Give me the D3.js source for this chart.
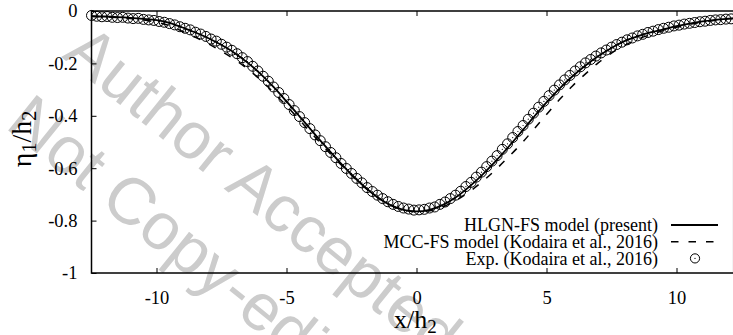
<!DOCTYPE html>
<html>
<head>
<meta charset="utf-8">
<script src="https://cdn.jsdelivr.net/npm/d3@7"></script>
<style>
  body { margin: 0; background: #fff; }
  svg { display: block; }
</style>
</head>
<body>
<div id="chart"></div>
<script>
// model curves, sampled every 0.5 x/h2
const modelX = [-12.5, -12, -11.5, -11, -10.5, -10, -9.5, -9, -8.5, -8, -7.5, -7, -6.5, -6, -5.5, -5,
  -4.5, -4, -3.5, -3, -2.5, -2, -1.5, -1, -0.5, 0, 0.5, 1, 1.5, 2, 2.5, 3, 3.5, 4, 4.5, 5,
  5.5, 6, 6.5, 7, 7.5, 8, 8.5, 9, 9.5, 10, 10.5, 11, 11.5, 12, 12.2];
const hlgnY = [-0.020, -0.021, -0.023, -0.026, -0.030, -0.035, -0.045, -0.063, -0.082, -0.104, -0.130,
  -0.160, -0.197, -0.240, -0.290, -0.345, -0.402, -0.460, -0.517, -0.572, -0.624, -0.671, -0.711,
  -0.741, -0.759, -0.765, -0.759, -0.741, -0.712, -0.673, -0.628, -0.578, -0.523, -0.465, -0.406,
  -0.349, -0.296, -0.249, -0.208, -0.172, -0.141, -0.115, -0.097, -0.082, -0.070, -0.058, -0.048,
  -0.040, -0.034, -0.029, -0.028];
const mccY = [-0.020, -0.022, -0.025, -0.029, -0.034, -0.043, -0.056, -0.078, -0.100, -0.125, -0.154,
  -0.185, -0.221, -0.263, -0.311, -0.362, -0.416, -0.471, -0.525, -0.577, -0.627, -0.672, -0.711,
  -0.741, -0.759, -0.766, -0.762, -0.748, -0.724, -0.692, -0.654, -0.610, -0.561, -0.510, -0.453,
  -0.395, -0.338, -0.286, -0.240, -0.197, -0.161, -0.132, -0.108, -0.090, -0.075, -0.062, -0.051,
  -0.042, -0.035, -0.030, -0.029];

// experiment (Kodaira et al., 2016), one gauge reading every 0.2 x/h2
const expX = [-12.5, -12.3, -12.1, -11.9, -11.7, -11.5, -11.3, -11.1, -10.9, -10.7, -10.5, -10.3, -10.1,
  -9.9, -9.7, -9.5, -9.3, -9.1, -8.9, -8.7, -8.5, -8.3, -8.1, -7.9, -7.7, -7.5, -7.3, -7.1, -6.9,
  -6.7, -6.5, -6.3, -6.1, -5.9, -5.7, -5.5, -5.3, -5.1, -4.9, -4.7, -4.5, -4.3, -4.1, -3.9, -3.7,
  -3.5, -3.3, -3.1, -2.9, -2.7, -2.5, -2.3, -2.1, -1.9, -1.7, -1.5, -1.3, -1.1, -0.9, -0.7, -0.5,
  -0.3, -0.1, 0.1, 0.3, 0.5, 0.7, 0.9, 1.1, 1.3, 1.5, 1.7, 1.9, 2.1, 2.3, 2.5, 2.7, 2.9, 3.1, 3.3,
  3.5, 3.7, 3.9, 4.1, 4.3, 4.5, 4.7, 4.9, 5.1, 5.3, 5.5, 5.7, 5.9, 6.1, 6.3, 6.5, 6.7, 6.9, 7.1,
  7.3, 7.5, 7.7, 7.9, 8.1, 8.3, 8.5, 8.7, 8.9, 9.1, 9.3, 9.5, 9.7, 9.9, 10.1, 10.3, 10.5, 10.7,
  10.9, 11.1, 11.3, 11.5, 11.7, 11.9, 12.1];
const expY = [-0.017, -0.020, -0.022, -0.021, -0.024, -0.025, -0.024, -0.027, -0.029, -0.028, -0.032,
  -0.034, -0.036, -0.040, -0.043, -0.048, -0.053, -0.060, -0.066, -0.072, -0.081, -0.088, -0.097,
  -0.107, -0.115, -0.127, -0.138, -0.150, -0.163, -0.178, -0.193, -0.211, -0.229, -0.249, -0.268,
  -0.290, -0.311, -0.334, -0.357, -0.380, -0.403, -0.426, -0.449, -0.473, -0.495, -0.518, -0.540,
  -0.560, -0.582, -0.601, -0.620, -0.639, -0.656, -0.674, -0.689, -0.703, -0.716, -0.728, -0.738,
  -0.746, -0.752, -0.756, -0.760, -0.759, -0.757, -0.752, -0.748, -0.738, -0.729, -0.716, -0.703,
  -0.688, -0.670, -0.654, -0.634, -0.615, -0.594, -0.573, -0.552, -0.528, -0.507, -0.483, -0.460,
  -0.437, -0.413, -0.390, -0.367, -0.345, -0.323, -0.302, -0.282, -0.263, -0.246, -0.229, -0.213,
  -0.198, -0.185, -0.172, -0.160, -0.149, -0.138, -0.128, -0.119, -0.110, -0.103, -0.095, -0.089,
  -0.082, -0.077, -0.071, -0.066, -0.062, -0.057, -0.054, -0.050, -0.047, -0.044, -0.041, -0.039,
  -0.036, -0.034, -0.033, -0.031, -0.030];

const xTicks = [-10, -5, 0, 5, 10];
const xTickLabels = ["-10", "-5", "0", "5", "10"];
const yTicks = [0, -0.2, -0.4, -0.6, -0.8, -1];
const yTickLabels = ["0", "-0.2", "-0.4", "-0.6", "-0.8", "-1"];
const legendLabels = ["HLGN-FS model (present)", "MCC-FS model (Kodaira et al., 2016)", "Exp. (Kodaira et al., 2016)"];

const W = 733, H = 335;
const margin = { top: 11, right: -0.7, bottom: 62, left: 91.5 };
const width = W - margin.left - margin.right;
const height = H - margin.top - margin.bottom;
const SERIF = 'Liberation Serif';

const svg = d3.select('#chart').append('svg')
  .attr('width', W)
  .attr('height', H);

// watermark
const wm = svg.append('g').attr('fill', '#cccccc');
wm.append('text')
  .attr('transform', 'translate(61,57) rotate(39)')
  .attr('font-family', 'Liberation Sans').attr('font-size', 66)
  .text('Author Accepted');
wm.append('text')
  .attr('transform', 'translate(4,127) rotate(39)')
  .attr('font-family', 'Liberation Sans').attr('font-size', 66)
  .text('Not Copy-edited');

const chart = svg.append('g')
  .attr('transform', `translate(${margin.left},${margin.top})`);

const x = d3.scaleLinear().domain([-12.5, 12.2]).range([0, width]);
const y = d3.scaleLinear().domain([-1, 0]).range([height, 0]);

// frame
chart.append('rect')
  .attr('width', width)
  .attr('height', height)
  .attr('fill', 'none')
  .attr('stroke', '#000')
  .attr('stroke-width', 1.5);

// ticks (inward, mirrored) via d3 axes
const tickStyle = g => {
  g.attr('font-family', SERIF).attr('font-size', 18.5);
  g.select('.domain').remove();
  g.selectAll('line').attr('stroke', '#000').attr('stroke-width', 1);
  g.selectAll('text').attr('font-family', SERIF).attr('font-size', 18.5).attr('fill', '#000');
};

chart.append('g')
  .attr('transform', `translate(0,${height})`)
  .call(d3.axisBottom(x).tickValues(xTicks).tickSize(-5).tickPadding(18)
    .tickFormat((d, i) => xTickLabels[i]))
  .call(tickStyle);
chart.append('g')
  .call(d3.axisTop(x).tickValues(xTicks).tickSize(-5).tickFormat(''))
  .call(tickStyle);
chart.append('g')
  .call(d3.axisLeft(y).tickValues(yTicks).tickSize(-5).tickPadding(14)
    .tickFormat((d, i) => yTickLabels[i]))
  .call(tickStyle);

// curves
const modelLine = vals => d3.line()
  .x((d, i) => x(modelX[i]))
  .y(d => y(d))
  .curve(d3.curveCatmullRom)(vals);

chart.append('path')
  .attr('d', modelLine(mccY))
  .attr('fill', 'none')
  .attr('stroke', '#000')
  .attr('stroke-width', 1.5)
  .attr('stroke-dasharray', '7.5,10');

chart.append('path')
  .attr('d', modelLine(hlgnY))
  .attr('fill', 'none')
  .attr('stroke', '#000')
  .attr('stroke-width', 1.8);

const pts = chart.append('g');
expX.forEach((xv, i) => {
  pts.append('circle')
    .attr('cx', x(xv)).attr('cy', y(expY[i])).attr('r', 5)
    .attr('fill', 'none').attr('stroke', '#000').attr('stroke-width', 1);
  pts.append('circle')
    .attr('cx', x(xv)).attr('cy', y(expY[i])).attr('r', 0.6)
    .attr('fill', '#000');
});

// legend
const legend = svg.append('g');
legendLabels.forEach((lab, i) => {
  const ly = 225 + i * 16.7;
  legend.append('text')
    .attr('font-family', SERIF).attr('font-size', 18)
    .attr('x', 658).attr('y', ly).attr('dy', '0.35em')
    .attr('text-anchor', 'end')
    .text(lab);
});
legend.append('line')
  .attr('x1', 671).attr('x2', 718).attr('y1', 225).attr('y2', 225)
  .attr('stroke', '#000').attr('stroke-width', 1.8);
legend.append('line')
  .attr('x1', 671).attr('x2', 718).attr('y1', 241.7).attr('y2', 241.7)
  .attr('stroke', '#000').attr('stroke-width', 1.5).attr('stroke-dasharray', '7.5,10');
legend.append('circle')
  .attr('cx', 695).attr('cy', 258.4).attr('r', 4.6)
  .attr('fill', 'none').attr('stroke', '#000');
legend.append('circle')
  .attr('cx', 695).attr('cy', 258.4).attr('r', 0.6).attr('fill', '#000');

// axis labels
const xl = svg.append('text')
  .attr('font-family', SERIF).attr('font-size', 26)
  .attr('x', 394).attr('y', 328);
xl.append('tspan').text('x/h');
xl.append('tspan').attr('dy', 5).attr('font-size', 19).text('2');

const yl = svg.append('text')
  .attr('font-family', SERIF).attr('font-size', 28)
  .attr('transform', 'translate(31,139) rotate(-90)')
  .attr('text-anchor', 'middle');
yl.append('tspan').text('η');
yl.append('tspan').attr('dy', 5).attr('font-size', 20).text('1');
yl.append('tspan').attr('dy', -5).text('/h');
yl.append('tspan').attr('dy', 5).attr('font-size', 20).text('2');
</script>
</body>
</html>
